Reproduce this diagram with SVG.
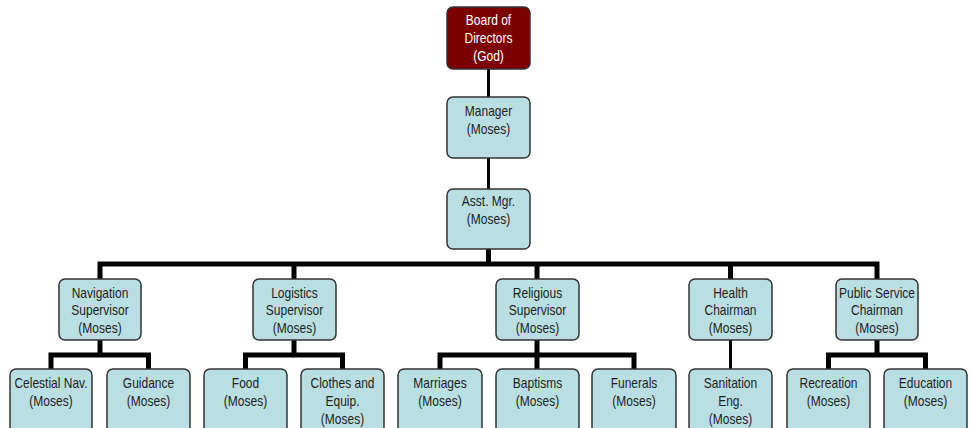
<svg xmlns="http://www.w3.org/2000/svg" width="972" height="428" viewBox="0 0 972 428">
  <style>
    .box { fill: #b9dfe2; stroke: #333333; stroke-width: 1.5; }
    .top { fill: #7d0000; stroke: #333333; stroke-width: 1.5; }
    .lbl { font-family: "Liberation Sans", Arial, sans-serif; font-size: 12px; fill: #1e1e1e; text-anchor: middle; }
    .lbl-w { fill: #ffffff; }
    .thin { fill: none; stroke: #000000; stroke-width: 3; }
    .bus { fill: none; stroke: #000000; stroke-width: 5; stroke-linejoin: miter; stroke-linecap: butt; }
  </style>
  <rect width="972" height="428" fill="#ffffff"/>

  <!-- connectors -->
  <g id="connectors">
    <path class="thin" d="M488.5,69 V97"/>
    <path class="thin" d="M488.5,158 V189"/>
    <path class="bus" d="M488.5,249 V264"/>
    <path class="bus" d="M100,279 V264 H877 V279"/>
    <path class="bus" d="M294,264 V279"/>
    <path class="bus" d="M537,264 V279"/>
    <path class="bus" d="M730.5,264 V279"/>
    <!-- navigation -->
    <path class="bus" d="M100,340 V355"/>
    <path class="bus" d="M51,369 V355 H148.5 V369"/>
    <!-- logistics -->
    <path class="bus" d="M294,340 V355"/>
    <path class="bus" d="M245.5,369 V355 H342.5 V369"/>
    <!-- religious -->
    <path class="bus" d="M537,340 V355"/>
    <path class="bus" d="M440,369 V355 H634 V369"/>
    <path class="bus" d="M537,355 V369"/>
    <!-- health -->
    <path class="thin" d="M730.5,340 V369"/>
    <!-- public service -->
    <path class="bus" d="M877,340 V355"/>
    <path class="bus" d="M828.5,369 V355 H925.5 V369"/>
  </g>

  <g id="board">
    <rect class="top" x="447" y="7" width="83" height="62" rx="6"/>
    <text class="lbl lbl-w" transform="translate(488.5,25) scale(1,1.2)"><tspan x="0" y="0">Board of</tspan><tspan x="0" dy="15">Directors</tspan><tspan x="0" dy="15">(God)</tspan></text>
  </g>
  <g id="manager">
    <rect class="box" x="447" y="97" width="83" height="61" rx="6"/>
    <text class="lbl" transform="translate(488.5,116) scale(1,1.2)"><tspan x="0" y="0">Manager</tspan><tspan x="0" dy="15">(Moses)</tspan></text>
  </g>
  <g id="asst-mgr">
    <rect class="box" x="447" y="189" width="83" height="60" rx="6"/>
    <text class="lbl" transform="translate(488.5,206) scale(1,1.2)"><tspan x="0" y="0">Asst. Mgr.</tspan><tspan x="0" dy="15">(Moses)</tspan></text>
  </g>

  <g id="navigation">
    <rect class="box" x="59" y="279" width="82" height="61" rx="6"/>
    <text class="lbl" transform="translate(100,298) scale(1,1.2)"><tspan x="0" y="0">Navigation</tspan><tspan x="0" dy="14.5">Supervisor</tspan><tspan x="0" dy="14.5">(Moses)</tspan></text>
  </g>
  <g id="logistics">
    <rect class="box" x="253" y="279" width="83" height="61" rx="6"/>
    <text class="lbl" transform="translate(294.5,298) scale(1,1.2)"><tspan x="0" y="0">Logistics</tspan><tspan x="0" dy="14.5">Supervisor</tspan><tspan x="0" dy="14.5">(Moses)</tspan></text>
  </g>
  <g id="religious">
    <rect class="box" x="496" y="279" width="83" height="61" rx="6"/>
    <text class="lbl" transform="translate(537.5,298) scale(1,1.2)"><tspan x="0" y="0">Religious</tspan><tspan x="0" dy="14.5">Supervisor</tspan><tspan x="0" dy="14.5">(Moses)</tspan></text>
  </g>
  <g id="health">
    <rect class="box" x="689" y="279" width="83" height="61" rx="6"/>
    <text class="lbl" transform="translate(730.5,298) scale(1,1.2)"><tspan x="0" y="0">Health</tspan><tspan x="0" dy="14.5">Chairman</tspan><tspan x="0" dy="14.5">(Moses)</tspan></text>
  </g>
  <g id="public-service">
    <rect class="box" x="836" y="279" width="82" height="61" rx="6"/>
    <text class="lbl" transform="translate(877,298) scale(1,1.2)"><tspan x="0" y="0">Public Service</tspan><tspan x="0" dy="14.5">Chairman</tspan><tspan x="0" dy="14.5">(Moses)</tspan></text>
  </g>

  <g id="celestial-nav">
    <rect class="box" x="10" y="369" width="82" height="64" rx="6"/>
    <text class="lbl" transform="translate(51,388) scale(1,1.2)"><tspan x="0" y="0">Celestial Nav.</tspan><tspan x="0" dy="15">(Moses)</tspan></text>
  </g>
  <g id="guidance">
    <rect class="box" x="107" y="369" width="83" height="64" rx="6"/>
    <text class="lbl" transform="translate(148.5,388) scale(1,1.2)"><tspan x="0" y="0">Guidance</tspan><tspan x="0" dy="15">(Moses)</tspan></text>
  </g>
  <g id="food">
    <rect class="box" x="204" y="369" width="83" height="64" rx="6"/>
    <text class="lbl" transform="translate(245.5,388) scale(1,1.2)"><tspan x="0" y="0">Food</tspan><tspan x="0" dy="15">(Moses)</tspan></text>
  </g>
  <g id="clothes">
    <rect class="box" x="301" y="369" width="83" height="64" rx="6"/>
    <text class="lbl" transform="translate(342.5,388) scale(1,1.2)"><tspan x="0" y="0">Clothes and</tspan><tspan x="0" dy="15">Equip.</tspan><tspan x="0" dy="15">(Moses)</tspan></text>
  </g>
  <g id="marriages">
    <rect class="box" x="398" y="369" width="84" height="64" rx="6"/>
    <text class="lbl" transform="translate(440,388) scale(1,1.2)"><tspan x="0" y="0">Marriages</tspan><tspan x="0" dy="15">(Moses)</tspan></text>
  </g>
  <g id="baptisms">
    <rect class="box" x="496" y="369" width="83" height="64" rx="6"/>
    <text class="lbl" transform="translate(537.5,388) scale(1,1.2)"><tspan x="0" y="0">Baptisms</tspan><tspan x="0" dy="15">(Moses)</tspan></text>
  </g>
  <g id="funerals">
    <rect class="box" x="592" y="369" width="84" height="64" rx="6"/>
    <text class="lbl" transform="translate(634,388) scale(1,1.2)"><tspan x="0" y="0">Funerals</tspan><tspan x="0" dy="15">(Moses)</tspan></text>
  </g>
  <g id="sanitation">
    <rect class="box" x="689" y="369" width="83" height="64" rx="6"/>
    <text class="lbl" transform="translate(730.5,388) scale(1,1.2)"><tspan x="0" y="0">Sanitation</tspan><tspan x="0" dy="15">Eng.</tspan><tspan x="0" dy="15">(Moses)</tspan></text>
  </g>
  <g id="recreation">
    <rect class="box" x="787" y="369" width="83" height="64" rx="6"/>
    <text class="lbl" transform="translate(828.5,388) scale(1,1.2)"><tspan x="0" y="0">Recreation</tspan><tspan x="0" dy="15">(Moses)</tspan></text>
  </g>
  <g id="education">
    <rect class="box" x="884" y="369" width="83" height="64" rx="6"/>
    <text class="lbl" transform="translate(925.5,388) scale(1,1.2)"><tspan x="0" y="0">Education</tspan><tspan x="0" dy="15">(Moses)</tspan></text>
  </g>
</svg>
